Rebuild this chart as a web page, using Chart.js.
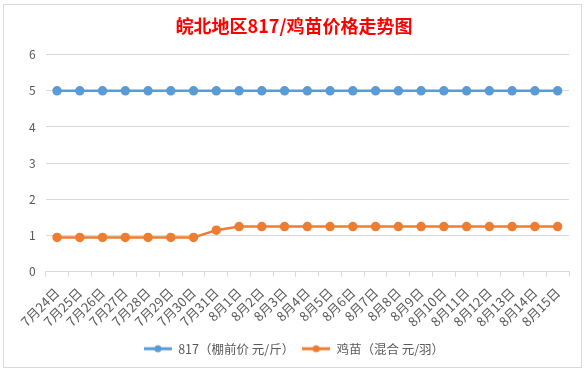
<!DOCTYPE html>
<html>
<head>
<meta charset="utf-8">
<script src="https://cdn.jsdelivr.net/npm/chart.js@4"></script>
<style>
  html, body { margin: 0; padding: 0; background: #fff; }
  #wrap { position: relative; width: 585px; height: 373px; }
</style>
</head>
<body>
<div id="wrap"><canvas id="chart" width="585" height="373"></canvas></div>
<script>
// data
const dates = ["7月24日","7月25日","7月26日","7月27日","7月28日","7月29日","7月30日","7月31日",
  "8月1日","8月2日","8月3日","8月4日","8月5日","8月6日","8月7日","8月8日","8月9日",
  "8月10日","8月11日","8月12日","8月13日","8月14日","8月15日"];
const price817 = [5,5,5,5,5,5,5,5,5,5,5,5,5,5,5,5,5,5,5,5,5,5,5];
const chickPrice = [0.95,0.95,0.95,0.95,0.95,0.95,0.95,1.15,1.25,1.25,1.25,1.25,1.25,1.25,1.25,1.25,1.25,1.25,1.25,1.25,1.25,1.25,1.25];
const yTicks = [0,1,2,3,4,5,6];

const BLUE = "#5b9bd5";
const ORANGE = "#ed7d31";
const TEXT = "#595959";
const FONT = "'Noto Sans CJK SC', 'Noto Sans', sans-serif";

// legend marker: short line with dot, like the spreadsheet legend
function marker(color) {
  const c = document.createElement("canvas");
  c.width = 28; c.height = 10;
  const g = c.getContext("2d");
  g.strokeStyle = color; g.lineWidth = 3;
  g.beginPath(); g.moveTo(0, 5); g.lineTo(28, 5); g.stroke();
  g.fillStyle = color;
  g.beginPath(); g.arc(14, 5, 3.5, 0, Math.PI * 2); g.fill();
  return c;
}

const frame = {
  id: "frame",
  beforeDraw(chart) {
    const ctx = chart.ctx;
    ctx.save();
    ctx.fillStyle = "#fff";
    ctx.fillRect(0, 0, chart.width, chart.height);
    ctx.strokeStyle = "#d9d9d9";
    ctx.lineWidth = 1;
    ctx.strokeRect(3.5, 4.5, 578, 363);
    ctx.restore();
  }
};

new Chart(document.getElementById("chart"), {
  type: "line",
  data: {
    labels: dates,
    datasets: [
      {
        label: "817（棚前价 元/斤）",
        data: price817,
        borderColor: BLUE, backgroundColor: BLUE,
        borderWidth: 2.5, pointRadius: 3.5, pointHoverRadius: 3.5,
      },
      {
        label: "鸡苗（混合 元/羽）",
        data: chickPrice,
        borderColor: ORANGE, backgroundColor: ORANGE,
        borderWidth: 2.5, pointRadius: 3.5, pointHoverRadius: 3.5,
      },
    ],
  },
  options: {
    responsive: false,
    animation: false,
    elements: { point: { pointStyle: "circle" } },
    layout: { padding: { left: 19, right: 16, top: 13, bottom: 8 } },
    plugins: {
      title: {
        display: true,
        text: "皖北地区817/鸡苗价格走势图",
        color: "#ff0000",
        font: { family: FONT, size: 18, weight: "bold" },
        padding: { top: 2, bottom: 18 },
      },
      legend: {
        position: "bottom",
        labels: {
          color: TEXT,
          font: { family: FONT, size: 12.5 },
          usePointStyle: true,
          pointStyleWidth: 28,
          padding: 8,
          generateLabels(chart) {
            return chart.data.datasets.map((d, i) => ({
              text: d.label,
              fontColor: TEXT,
              pointStyle: marker(d.borderColor),
              datasetIndex: i,
              lineWidth: 0,
              strokeStyle: "transparent",
              fillStyle: d.borderColor,
            }));
          },
        },
      },
      tooltip: { enabled: false },
    },
    scales: {
      x: {
        offset: true,
        afterFit(axis) { axis.height -= 3; },
        grid: { display: true, drawOnChartArea: false, offset: true, color: "#d9d9d9", tickLength: 5 },
        border: { display: true, color: "#d9d9d9" },
        ticks: {
          color: TEXT, autoSkip: false,
          maxRotation: 45, minRotation: 45,
          font: { family: FONT, size: 13 },
          padding: 8,
        },
      },
      y: {
        min: 0, max: 6,
        afterBuildTicks(axis) { axis.ticks = yTicks.map(v => ({ value: v })); },
        grid: { color: "#d9d9d9", drawTicks: false },
        border: { display: false },
        ticks: { color: TEXT, font: { family: FONT, size: 12 }, padding: 10 },
      },
    },
  },
  plugins: [frame],
});
</script>
</body>
</html>
